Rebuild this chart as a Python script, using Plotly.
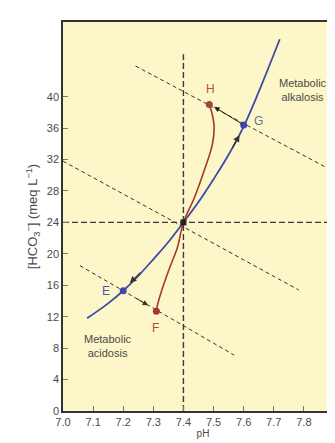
import plotly.graph_objects as go

# blue curve (pCO2 = 40 isobar)
blue_ph = [7.08, 7.15, 7.2, 7.25, 7.3, 7.35, 7.4, 7.45, 7.5, 7.55, 7.6, 7.65, 7.72]
blue_hco3 = [11.8, 13.7, 15.3, 17.2, 19.3, 21.5, 24.0, 26.6, 29.5, 32.6, 36.2, 40.6, 47.3]

# red curve (compensated path F -> normal -> H)
red_ph = [7.31, 7.314, 7.331, 7.354, 7.38, 7.4, 7.436, 7.469, 7.496, 7.502, 7.496, 7.486]
red_hco3 = [12.7, 13.5, 15.7, 18.2, 20.8, 24.0, 27.1, 30.6, 33.9, 36.1, 37.7, 39.0]

# dashed buffer lines (start, end)
buffer_ph = [[7.241, 7.869], [7.0, 7.783], [7.056, 7.569]]
buffer_hco3 = [[43.9, 31.1], [31.8, 15.4], [18.5, 7.1]]

# labelled points
pt_names = ["E", "F", "G", "H"]
pt_ph = [7.2, 7.31, 7.6, 7.486]
pt_hco3 = [15.3, 12.7, 36.4, 39.0]
normal_ph, normal_hco3 = 7.4, 24.0

x_ticks = [7.0, 7.1, 7.2, 7.3, 7.4, 7.5, 7.6, 7.7, 7.8]
y_ticks = [0, 4, 8, 12, 16, 20, 24, 28, 32, 36, 40]

BLUE = "#3c4ca6"
RED = "#a8382a"
TXT = "#4a4a4a"
FONT = "Liberation Sans, Arial"

fig = go.Figure()

# buffer lines
for xs, ys in zip(buffer_ph, buffer_hco3):
    fig.add_trace(go.Scatter(x=xs, y=ys, mode="lines",
                             line=dict(color="#333", width=1, dash="4px,3px"),
                             showlegend=False, hoverinfo="skip"))

# normal reference lines
fig.add_trace(go.Scatter(x=[7.0, 7.93], y=[normal_hco3, normal_hco3], mode="lines",
                         line=dict(color="#3a3a3a", width=1.4, dash="6px,3px"),
                         showlegend=False, hoverinfo="skip"))
fig.add_trace(go.Scatter(x=[normal_ph, normal_ph], y=[0, 45.4], mode="lines",
                         line=dict(color="#3a3a3a", width=1.4, dash="6px,3px"),
                         showlegend=False, hoverinfo="skip"))

fig.add_trace(go.Scatter(x=blue_ph, y=blue_hco3, mode="lines",
                         line=dict(color=BLUE, width=1.8, shape="spline"),
                         showlegend=False, hoverinfo="skip"))
fig.add_trace(go.Scatter(x=red_ph, y=red_hco3, mode="lines",
                         line=dict(color=RED, width=1.6, shape="spline"),
                         showlegend=False, hoverinfo="skip"))

pt_colors = [BLUE, RED, BLUE, "#9a4a30"]
fig.add_trace(go.Scatter(x=pt_ph, y=pt_hco3, mode="markers",
                         marker=dict(color=pt_colors, size=7, symbol="circle"),
                         showlegend=False, hoverinfo="skip"))
fig.add_trace(go.Scatter(x=[normal_ph], y=[normal_hco3], mode="markers",
                         marker=dict(color="#222", size=6, symbol="square"),
                         showlegend=False, hoverinfo="skip"))

# arrows
arrows = [
    ((7.262, 17.8), (7.222, 16.3), "#333", 1.2),   # normal -> E
    ((7.24, 14.4), (7.283, 13.45), "#333", 1),     # E -> F
    ((7.56, 33.3), (7.586, 35.1), "#333", 1.2),    # normal -> G
    ((7.6, 36.4), (7.502, 38.7), "#222", 1),       # G -> H
]
for (tx, ty), (hx, hy), c, w in arrows:
    fig.add_annotation(x=hx, y=hy, ax=tx, ay=ty, xref="x", yref="y", axref="x", ayref="y",
                       showarrow=True, arrowhead=2, arrowsize=1.1, arrowwidth=w,
                       arrowcolor=c, text="")

labels = [
    ("E", 7.142, 15.3, "#4a55a8"),
    ("F", 7.307, 10.6, "#b04a3a"),
    ("G", 7.648, 36.9, "#6a7090"),
    ("H", 7.489, 41.0, "#c0503a"),
]
for t, x, y, c in labels:
    fig.add_annotation(x=x, y=y, text=t, showarrow=False,
                       font=dict(size=12, color=c, family=FONT))

fig.add_annotation(x=7.797, y=40.9, text="Metabolic<br>alkalosis", showarrow=False,
                   font=dict(size=11, color=TXT, family=FONT))
fig.add_annotation(x=7.149, y=8.3, text="Metabolic<br>acidosis", showarrow=False,
                   font=dict(size=11, color=TXT, family=FONT))

fig.update_xaxes(range=[7.0, 7.93], tickvals=x_ticks, ticktext=[f"{v:.1f}" for v in x_ticks],
                 ticks="inside", ticklen=5, tickcolor="#777", showgrid=False, zeroline=False,
                 showline=True, linecolor="#333", linewidth=1.5, mirror=True,
                 title=dict(text="pH", standoff=2, font=dict(size=10)))
fig.update_yaxes(range=[0, 49.5], tickvals=y_ticks, ticks="inside", ticklen=5, tickcolor="#777",
                 showgrid=False, zeroline=False, showline=True, linecolor="#333", linewidth=1.5,
                 title=dict(text="[HCO<sub>3</sub><sup>−</sup>] (meq L<sup>−1</sup>)", standoff=6))

fig.update_layout(
    width=335, height=443,
    margin=dict(l=55, r=0, t=14, b=40),
    plot_bgcolor="#fcf6c8", paper_bgcolor="white",
    font=dict(family=FONT, size=11, color=TXT),
)

fig.write_html("out.html")
